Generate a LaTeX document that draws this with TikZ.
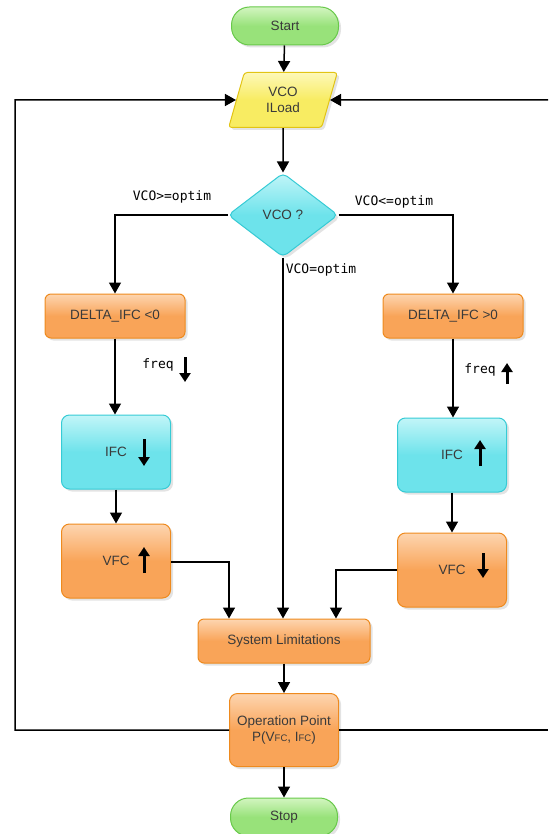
\documentclass[tikz,border=0pt]{standalone}
\usepackage{fontspec}
\setmainfont{Liberation Sans}
\newfontfamily\monofont{DejaVu Sans Mono}
\usetikzlibrary{shapes.geometric,arrows.meta,shadows}
\definecolor{txt}{HTML}{3A3A3A}
\definecolor{orT}{HTML}{FDD5B0}
\definecolor{orF}{HTML}{F9A458}
\definecolor{orB}{HTML}{EE8A1E}
\definecolor{cyT}{HTML}{C2F5F8}
\definecolor{cyF}{HTML}{6DE3EB}
\definecolor{cyB}{HTML}{36CBD5}
\definecolor{grT}{HTML}{D2F5C0}
\definecolor{grF}{HTML}{98E27A}
\definecolor{grB}{HTML}{68C94A}
\definecolor{yeT}{HTML}{FDF8B8}
\definecolor{yeF}{HTML}{F8EC62}
\definecolor{yeB}{HTML}{E2C414}
\begin{document}
\begin{tikzpicture}[x=1pt,y=-1pt,
  base/.style={draw, line width=1pt, inner sep=0pt, align=center,
    font=\fontsize{13.5}{16}\selectfont, text=txt,
    drop shadow={opacity=0.22, shadow xshift=2.5pt, shadow yshift=-2.5pt}},
  obox/.style={base, rounded corners=6pt, draw=orB, top color=orT, bottom color=orF, middle color=orF},
  cbox/.style={base, rounded corners=8pt, draw=cyB, top color=cyT, bottom color=cyF, middle color=cyF},
  term/.style={base, rounded corners=18pt, draw=grB, top color=grT, bottom color=grF, middle color=grF,
    minimum width=107pt, minimum height=38pt},
  lab/.style={font=\monofont\fontsize{13}{15}\selectfont, text=black, inner sep=1pt},
  line/.style={line width=1.5pt, black},
  conn/.style={line, -{Triangle[length=11pt,width=12pt]}},
  bigarrow/.style={line width=3pt, black, -{Triangle[length=9pt,width=11pt]}}
]
\useasboundingbox (0,0) rectangle (548,834);

% nodes
\node[term] (start) at (285,26) {Start};
\node[base, trapezium, trapezium left angle=75, trapezium right angle=105,
  trapezium stretches=true, minimum width=109pt, minimum height=55pt,
  rounded corners=3pt, draw=yeB, top color=yeT, bottom color=yeF, middle color=yeF] (io) at (283,100) {VCO\\ILoad};
\node[base, diamond, minimum width=110pt, minimum height=84pt, rounded corners=5pt,
  draw=cyB, top color=cyT, bottom color=cyF, middle color=cyF] (dec) at (283,215) {VCO ?};
\node[obox, minimum width=140pt, minimum height=44pt] (dl) at (115,316) {DELTA\_IFC <0};
\node[obox, minimum width=140pt, minimum height=44pt] (dr) at (453,316) {DELTA\_IFC >0};
\node[cbox, minimum width=109pt, minimum height=74pt] (ifcL) at (116,452) {IFC};
\node[obox, rounded corners=8pt, minimum width=109pt, minimum height=74pt] (vfcL) at (116,561) {VFC};
\node[cbox, minimum width=109pt, minimum height=74pt] (ifcR) at (452,455) {IFC};
\node[obox, rounded corners=8pt, minimum width=109pt, minimum height=74pt] (vfcR) at (452,570) {VFC};
\node[obox, minimum width=172pt, minimum height=44pt] (sys) at (284,641) {System Limitations};
\node[obox, rounded corners=8pt, minimum width=109pt, minimum height=73pt] (op) at (284,730)
  {Operation Point\\P(V{\fontsize{9.5}{11}\selectfont FC}, I{\fontsize{9.5}{11}\selectfont FC})};
\node[term] (stop) at (284,817) {Stop};

% labels
\node[lab] (lge) at (172,197) {VCO>=optim};
\node[lab] (lle) at (394,202) {VCO<=optim};
\node[lab] (leq) at (321,270) {VCO=optim};
\node[lab] (freqL) at (158,365) {freq};
\node[lab] (freqR) at (480,370) {freq};

% connector corners
\coordinate (cL) at (115,215);
\coordinate (cR) at (453,215);
\coordinate (vL) at (229,562);
\coordinate (vR) at (336,570);
\coordinate (lb) at (15,730);
\coordinate (lt) at (15,100);
\coordinate (rb) at (548,730);
\coordinate (rt) at (548,100);

% connectors
\draw[conn] (start) -- (io);
\draw[conn] (io) -- (dec);
\draw[conn] (dec.west) -- (cL) -- (dl.north);
\draw[conn] (dec.east) -- (cR) -- (dr.north);
\draw[conn] (dec.south) -- (sys.north -| dec.south);
\draw[conn] (dl) -- (ifcL.north -| dl.south);
\draw[conn] (dr) -- (ifcR.north -| dr.south);
\draw[conn] (ifcL) -- (vfcL);
\draw[conn] (ifcR) -- (vfcR);
\draw[conn] (vfcL.east |- vL) -- (vL) -- (vL |- sys.north);
\draw[conn] (vfcR.west |- vR) -- (vR) -- (vR |- sys.north);
\draw[conn] (sys) -- (op);
\draw[conn] (op) -- (stop);
\draw[conn] (op.west) -- (lb) -- (lt) -- (io.west);
\draw[line] (op.east) -- (rb);
\draw[conn] (rt) -- (io.east);

% small direction arrows
\draw[bigarrow] ([shift={(27,-8)}]freqL.center) -- ([shift={(27,17)}]freqL.center);
\draw[bigarrow] ([shift={(27,14)}]freqR.center) -- ([shift={(27,-7)}]freqR.center);
\draw[bigarrow] ([shift={(28,-13)}]ifcL.center) -- ([shift={(28,14)}]ifcL.center);
\draw[bigarrow] ([shift={(28,12)}]vfcL.center) -- ([shift={(28,-14)}]vfcL.center);
\draw[bigarrow] ([shift={(28,11)}]ifcR.center) -- ([shift={(28,-15)}]ifcR.center);
\draw[bigarrow] ([shift={(31,-17)}]vfcR.center) -- ([shift={(31,8)}]vfcR.center);
\end{tikzpicture}
\end{document}
